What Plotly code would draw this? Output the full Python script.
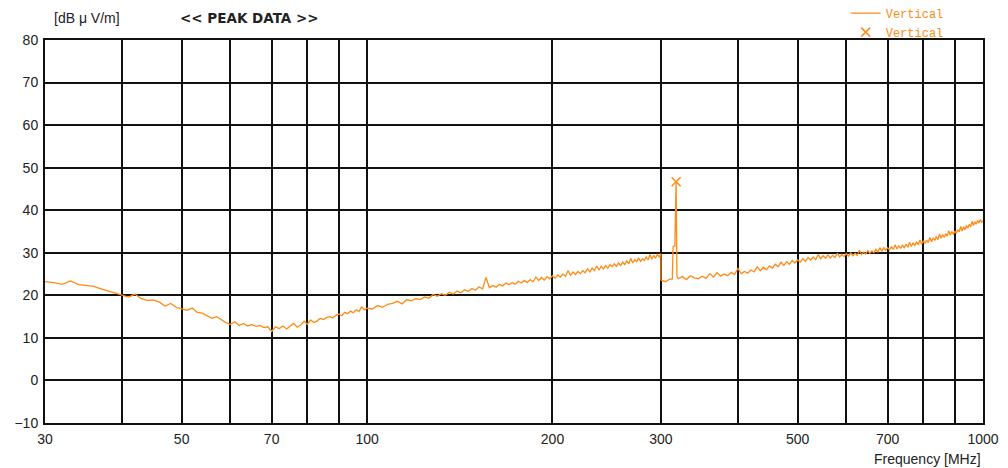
import plotly.graph_objects as go

# ---- data ----
freq_low = [30, 31, 32, 33, 34, 35, 36, 37, 38, 39, 40, 41, 42, 43, 44, 45, 46, 47, 48, 49,
            50, 51, 52, 53, 54, 55, 56, 57, 58, 59, 60, 61, 62, 63, 64, 65, 66, 67, 68, 69,
            70, 71, 72, 73, 74, 75, 76, 77, 78, 79, 80, 81, 82, 83, 84, 85, 86, 87, 88, 89,
            90, 91, 92, 93, 94, 95, 96, 97, 98, 99]
level_low = [23.2, 23.0, 22.6, 23.4, 22.5, 22.3, 22.1, 21.5, 21.0, 20.6, 20.0, 19.6, 20.3, 19.2, 18.8, 18.9, 18.4, 17.5, 18.1, 17.2,
             16.8, 16.5, 17.0, 16.0, 15.8, 15.2, 14.6, 15.0, 14.2, 13.6, 13.2, 13.8, 12.9, 13.4, 12.8, 13.1, 12.7, 12.9, 12.4, 12.6,
             11.5, 12.6, 12.2, 12.8, 12.1, 12.7, 13.4, 12.5, 13.0, 13.9, 13.2, 14.2, 13.6, 14.0, 14.6, 14.3, 14.8, 15.0, 14.7, 15.3,
             15.6, 15.2, 16.0, 15.7, 16.3, 15.9, 16.6, 16.2, 17.3, 16.6]

freq_mid = [100, 102, 104, 106, 108, 110, 112, 114, 116, 118, 120, 122, 124, 126, 128, 130, 132, 134, 136, 138,
            140, 142, 144, 146, 148, 150, 152, 154, 156, 158, 160, 162, 164, 166, 168, 170, 172, 174, 176, 178,
            180, 182, 184, 186, 188, 190, 192, 194, 196, 198, 200, 202, 204, 206, 208, 210, 212, 214, 216, 218,
            220, 222, 224, 226, 228, 230, 232, 234, 236, 238, 240, 242, 244, 246, 248, 250, 252, 254, 256, 258,
            260, 262, 264, 266, 268, 270, 272, 274, 276, 278, 280, 282, 284, 286, 288, 290, 292, 294, 296, 298, 300]
level_mid = [17.0, 16.8, 17.6, 17.2, 17.9, 18.1, 18.6, 18.0, 19.0, 18.7, 19.2, 19.0, 19.6, 19.3, 20.2, 19.8, 20.4, 20.0, 20.7, 20.3,
             21.0, 20.6, 21.3, 20.9, 21.6, 21.2, 22.0, 21.5, 24.2, 21.8, 22.3, 21.9, 22.6, 22.2, 22.9, 22.5, 23.0, 22.6, 23.3, 22.9,
             23.5, 23.0, 23.7, 23.2, 24.3, 23.5, 24.2, 23.6, 24.4, 23.9, 24.6, 24.0, 24.8, 24.3, 25.0, 24.5, 25.8, 24.7, 25.5, 24.9,
             25.6, 25.1, 25.8, 25.3, 26.2, 25.5, 26.4, 25.8, 26.9, 26.0, 26.8, 26.2, 27.0, 26.4, 27.2, 26.7, 27.4, 26.8, 27.6, 27.0,
             27.8, 27.2, 28.1, 27.4, 28.7, 27.6, 28.4, 27.9, 28.8, 28.0, 28.6, 28.2, 29.0, 28.3, 29.6, 28.5, 29.4, 28.7, 29.6, 29.0, 29.8]

freq_spur = [300, 305, 310, 313, 314, 316, 317.5, 318, 318.5, 320]
level_spur = [23.6, 23.2, 23.8, 23.8, 31.5, 31.6, 46.7, 34.8, 24.5, 23.9]

freq_high = [325, 330, 335, 340, 345, 350, 355, 360, 365, 370, 375, 380, 385, 390, 395,
             400, 405, 410, 415, 420, 425, 430, 435, 440, 445, 450, 455, 460, 465, 470, 475, 480, 485, 490, 495,
             500, 505, 510, 515, 520, 525, 530, 535, 540, 545, 550, 555, 560, 565, 570, 575, 580, 585, 590, 595,
             600, 605, 610, 615, 620, 625, 630, 635, 640, 645, 650, 655, 660, 665, 670, 675, 680, 685, 690, 695,
             700, 705, 710, 715, 720, 725, 730, 735, 740, 745, 750, 755, 760, 765, 770, 775, 780, 785, 790, 795,
             800, 805, 810, 815, 820, 825, 830, 835, 840, 845, 850, 855, 860, 865, 870, 875, 880, 885, 890, 895,
             900, 905, 910, 915, 920, 925, 930, 935, 940, 945, 950, 955, 960, 965, 970, 975, 980, 985, 990, 995, 1000]
level_high = [24.4, 23.7, 24.6, 24.1, 23.9, 24.5, 24.0, 25.1, 24.3, 25.3, 24.5, 25.0, 24.6, 25.4, 24.9,
              26.3, 25.1, 25.6, 25.2, 26.0, 25.5, 26.7, 25.8, 26.6, 26.0, 26.9, 26.4, 27.3, 26.7, 27.8, 27.0, 27.9, 27.3, 28.2, 27.6,
              28.3, 27.8, 28.6, 28.0, 28.9, 28.3, 29.0, 28.4, 29.6, 28.6, 29.3, 28.7, 29.5, 28.8, 29.4, 28.9, 29.9, 29.0, 29.6, 29.1,
              29.8, 29.2, 30.0, 29.3, 29.9, 29.4, 30.6, 29.6, 30.1, 29.7, 30.5, 29.9, 30.4, 30.0, 30.8, 30.2, 31.2, 30.4, 31.2, 30.6,
              31.2, 30.7, 31.4, 30.8, 31.9, 30.9, 31.7, 31.0, 31.8, 31.2, 32.0, 31.3, 32.5, 31.5, 32.3, 31.7, 32.5, 31.9, 33.0, 32.0,
              32.8, 32.2, 33.0, 32.4, 33.6, 32.6, 33.5, 32.9, 33.8, 33.1, 34.4, 33.4, 34.3, 33.6, 34.5, 33.9, 35.2, 34.1, 35.0, 34.3,
              35.1, 34.6, 35.4, 34.9, 36.2, 35.1, 36.1, 35.4, 36.4, 35.8, 36.7, 36.1, 37.4, 36.4, 37.3, 36.7, 37.6, 37.0, 37.8, 37.2, 37.5]

peak_freq = [317.5]
peak_level = [46.7]

x_tickvals = [30, 40, 50, 60, 70, 80, 90, 100, 200, 300, 400, 500, 600, 700, 800, 900, 1000]
x_ticktext = ["30", "", "50", "", "70", "", "", "100", "200", "300", "", "500", "", "700", "", "", "1000"]
y_tickvals = [-10, 0, 10, 20, 30, 40, 50, 60, 70, 80]

ORANGE = "#FF8A14"

freq = freq_low + freq_mid + freq_spur + freq_high
level = level_low + level_mid + level_spur + level_high

fig = go.Figure()
fig.add_trace(go.Scatter(x=freq, y=level, mode="lines", name="Vertical",
                         line=dict(color=ORANGE, width=1.3)))
fig.add_trace(go.Scatter(x=peak_freq, y=peak_level, mode="markers", name="Vertical",
                         marker=dict(symbol="x-thin-open", size=9, color=ORANGE,
                                     line=dict(color=ORANGE, width=1.5))))

tick_font = dict(family="Liberation Sans, Arial, sans-serif", size=14, color="#222222")

fig.update_layout(
    width=1000, height=460,
    margin=dict(l=37, r=25, t=32, b=45, autoexpand=False),
    paper_bgcolor="white", plot_bgcolor="white",
    showlegend=True,
    legend=dict(x=0.8536, y=1.108, xanchor="left", yanchor="top",
                bgcolor="rgba(0,0,0,0)", tracegroupgap=0,
                font=dict(family="Liberation Mono, DejaVu Sans Mono, monospace", size=12, color=ORANGE),
                itemwidth=30),
    xaxis=dict(type="log", range=[1.4771213, 3.0], tickvals=x_tickvals, ticktext=x_ticktext,
               showgrid=True, gridcolor="#111111", gridwidth=1.5, automargin=False,
               showline=True, linecolor="#111111", linewidth=2, mirror=True,
               ticks="", tickfont=tick_font, zeroline=False, ticklabelstandoff=2),
    yaxis=dict(range=[-10, 80], tickvals=y_tickvals, automargin=False,
               showgrid=True, gridcolor="#111111", gridwidth=1.5,
               showline=True, linecolor="#111111", linewidth=2, mirror=True,
               ticks="", tickfont=tick_font, zeroline=False, ticklabelstandoff=2),
    annotations=[
        dict(text="[dB μ V/m]", xref="paper", yref="paper", x=0.0075, y=1.057,
             xanchor="left", yanchor="middle", showarrow=False,
             font=dict(family="Liberation Sans, Arial, sans-serif", size=14, color="#222222")),
        dict(text="<b>&lt;&lt; PEAK DATA &gt;&gt;</b>", xref="paper", yref="paper", x=0.142, y=1.057,
             xanchor="left", yanchor="middle", showarrow=False,
             font=dict(family="DejaVu Sans, sans-serif", size=13.5, color="#222222")),
        dict(text="Frequency [MHz]", xref="paper", yref="paper", x=1.0, y=-0.094,
             xanchor="right", yanchor="middle", showarrow=False,
             font=dict(family="Liberation Sans, Arial, sans-serif", size=14, color="#222222")),
    ],
)

fig.write_html("out.html")
